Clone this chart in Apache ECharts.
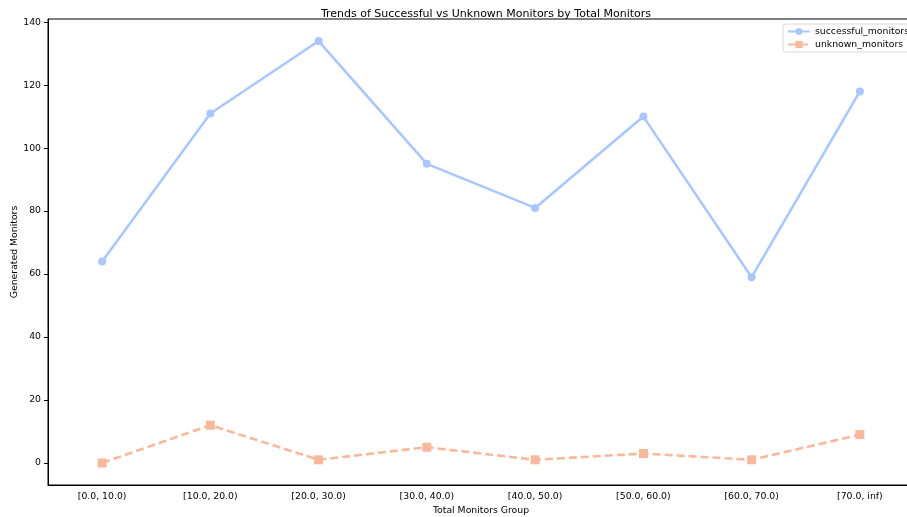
<!DOCTYPE html>
<html><head><meta charset="utf-8">
<script src="https://cdn.jsdelivr.net/npm/echarts@6/dist/echarts.min.js"></script>
<style>html,body{margin:0;padding:0;background:#fff}#c{width:907px;height:517px}</style>
</head><body><div id="c"></div>
<script>
var categories = ['[0.0, 10.0)','[10.0, 20.0)','[20.0, 30.0)','[30.0, 40.0)','[40.0, 50.0)','[50.0, 60.0)','[60.0, 70.0)','[70.0, inf)'];
var successfulMonitors = [64, 111, 134, 95, 81, 110, 59, 118];
var unknownMonitors = [0, 12, 1, 5, 1, 3, 1, 9];
var yTicks = [0, 20, 40, 60, 80, 100, 120, 140];
var font = 'DejaVu Sans';
var fs = 9.3;
var chart = echarts.init(document.getElementById('c'));
chart.setOption({
  animation: false,
  textStyle: {fontFamily: font},
  title: {text: 'Trends of Successful vs Unknown Monitors by Total Monitors', left: 481, textAlign: 'center', top: 4,
    textStyle: {fontFamily: font, fontSize: 11, fontWeight: 'normal', color: '#000'}},
  legend: {
    left: 783, top: 24, orient: 'vertical', itemGap: 4, itemWidth: 22, itemHeight: 9,
    backgroundColor: '#fff', borderColor: '#d8d8d8', borderWidth: 1, borderRadius: 3, padding: [3, 6, 3, 4],
    textStyle: {fontFamily: font, fontSize: fs, color: '#000'},
    data: ['successful_monitors', 'unknown_monitors']
  },
  grid: {left: 48, top: 19, width: 866, height: 466, outerBoundsMode: 'none', containLabel: false,
    show: true, borderColor: '#000', borderWidth: 1, backgroundColor: 'transparent'},
  xAxis: {
    type: 'category', data: categories, boundaryGap: true,
    name: 'Total Monitors Group', nameLocation: 'middle', nameGap: 21, nameMoveOverlap: false,
    nameTextStyle: {fontFamily: font, fontSize: fs, color: '#000'},
    axisLine: {onZero: false, lineStyle: {color: '#000', width: 1}},
    axisTick: {alignWithLabel: true, length: 4, lineStyle: {color: '#000'}},
    axisLabel: {fontFamily: font, fontSize: fs, color: '#000', margin: 7, interval: 0},
    splitLine: {show: false}
  },
  yAxis: {
    type: 'value', min: -7, max: 141,
    name: 'Generated Monitors', nameLocation: 'middle', nameGap: 29, nameRotate: 90, nameMoveOverlap: false,
    nameTextStyle: {fontFamily: font, fontSize: fs, color: '#000'},
    axisLine: {show: true, onZero: false, lineStyle: {color: '#000', width: 1}},
    axisTick: {show: true, length: 4, customValues: yTicks, lineStyle: {color: '#000'}},
    axisLabel: {fontFamily: font, fontSize: fs, color: '#000', margin: 7, customValues: yTicks},
    splitLine: {show: false}
  },
  series: [
    {name: 'successful_monitors', type: 'line', data: successfulMonitors,
      symbol: 'circle', symbolSize: 8,
      lineStyle: {color: '#aac7fd', width: 2.6}, itemStyle: {color: '#aac7fd'}},
    {name: 'unknown_monitors', type: 'line', data: unknownMonitors,
      symbol: 'rect', symbolSize: 9,
      lineStyle: {color: '#f7b89c', width: 2.6, type: [8, 4]}, itemStyle: {color: '#f7b89c'}}
  ]
});
</script></body></html>
